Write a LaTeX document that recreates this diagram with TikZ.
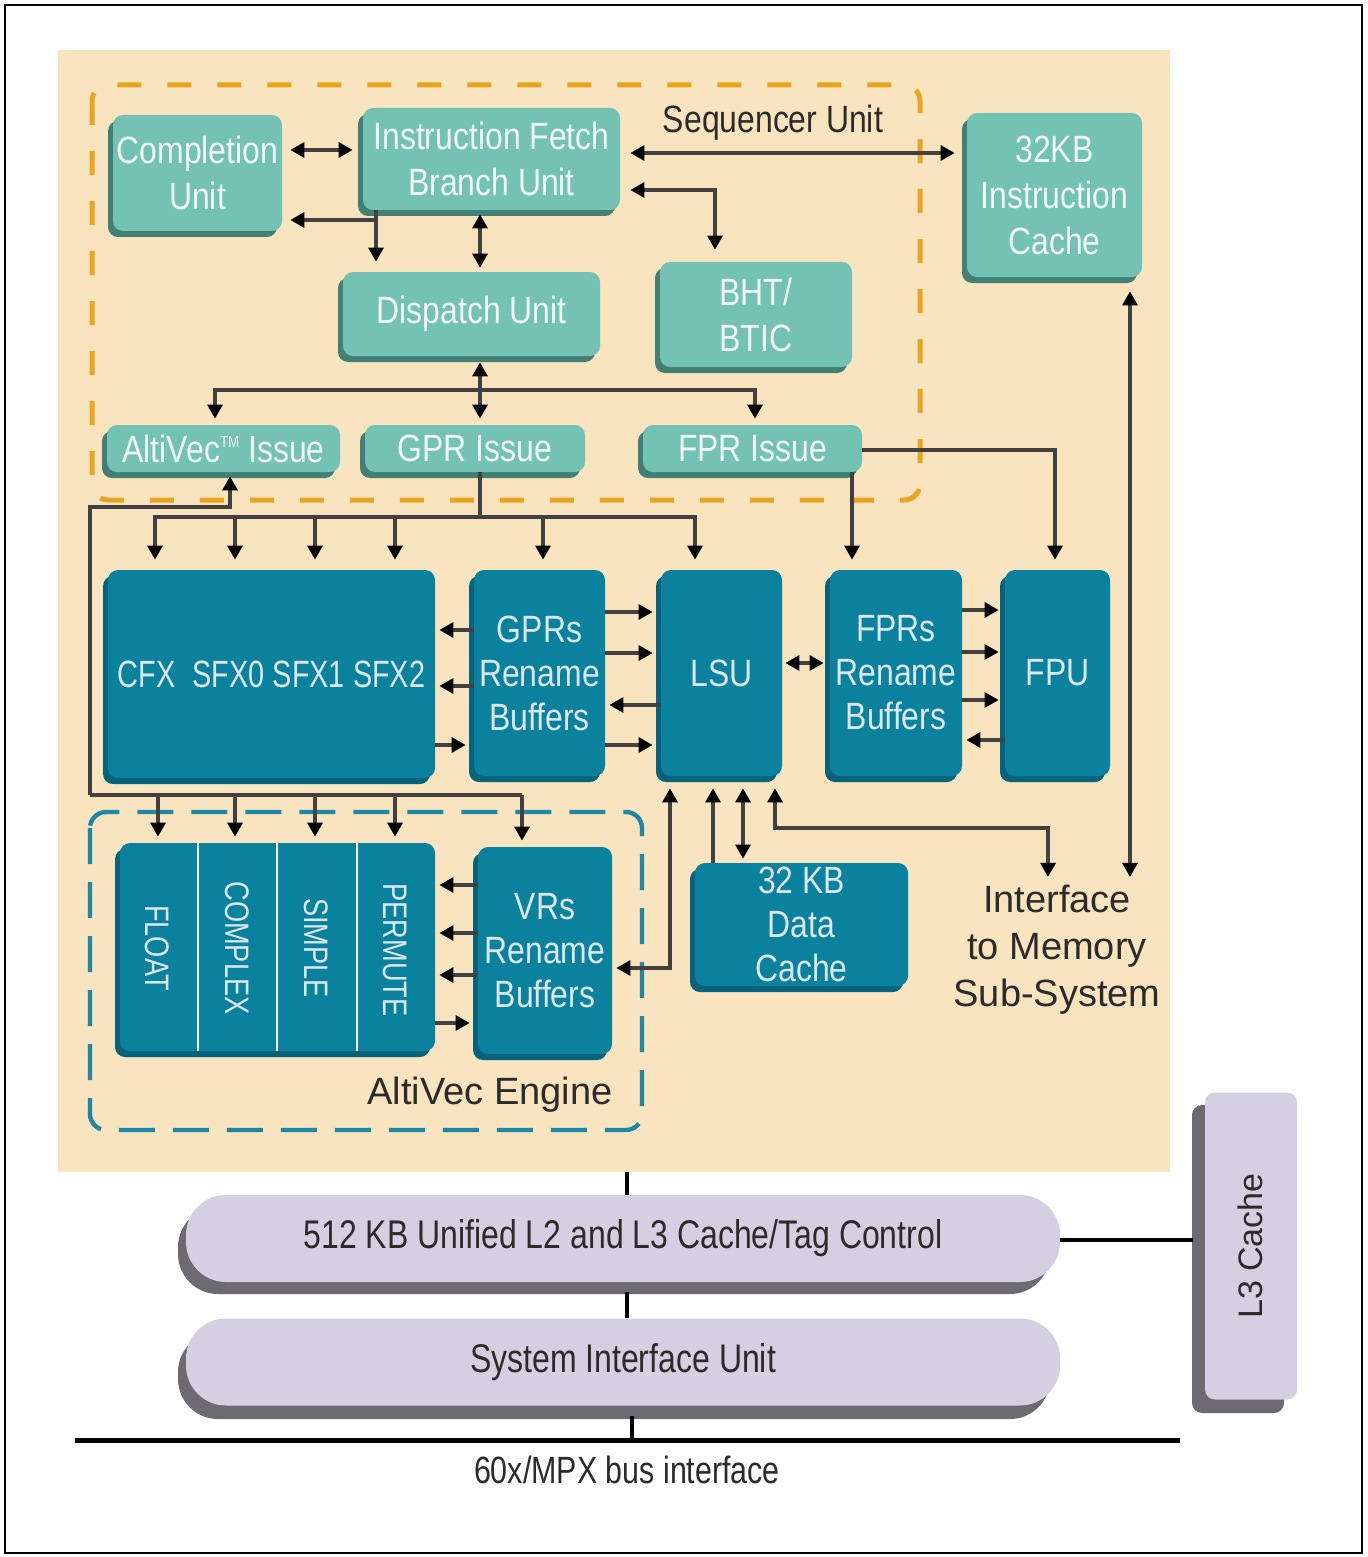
\documentclass[tikz,border=0pt]{standalone}
\usepackage{fontspec}
\setmainfont{Liberation Sans}
\newfontfamily\cond{Liberation Sans}[FakeStretch=0.84]
\newfontfamily\condx{Liberation Sans}[FakeStretch=0.80]
\newfontfamily\condxx{Liberation Sans}[FakeStretch=0.76]
\usetikzlibrary{arrows.meta,calc}
\definecolor{beige}{HTML}{F8E4BE}
\definecolor{lteal}{HTML}{74C2B4}
\definecolor{ltealsh}{HTML}{437F75}
\definecolor{dteal}{HTML}{0A819D}
\definecolor{dtealsh}{HTML}{06637B}
\definecolor{orng}{HTML}{EAA520}
\definecolor{bdash}{HTML}{1C88A6}
\definecolor{lav}{HTML}{D4D0E1}
\definecolor{lavsh}{HTML}{6D6A72}
\definecolor{wire}{HTML}{454040}
\definecolor{ltxt}{HTML}{F0F9F6}
\definecolor{dtxt}{HTML}{DCE8F6}
\definecolor{dktxt}{HTML}{2C2A2A}
\tikzset{
  ltbox/.style={fill=lteal, rounded corners=5pt, text=ltxt, align=center, inner sep=0pt,
    font=\cond\fontsize{19}{23}\selectfont},
  ltsh/.style={fill=ltealsh, rounded corners=5pt},
  dkbox/.style={fill=dteal, rounded corners=5pt, text=dtxt, align=center, inner sep=0pt,
    font=\cond\fontsize{19}{22}\selectfont},
  dksh/.style={fill=dtealsh, rounded corners=5pt},
  lvbox/.style={fill=lav, rounded corners=20pt, text=dktxt, inner sep=0pt,
    font=\condx\fontsize{20}{24}\selectfont},
  lvsh/.style={fill=lavsh, rounded corners=20pt},
  tip/.tip={Triangle[length=7pt,width=7.5pt,color=black]},
  wireline/.style={draw=wire, line width=1.6pt},
  arr/.style={wireline, -tip},
  darr/.style={wireline, tip-tip},
  blk/.style={draw=black, line width=2pt},
  lbl/.style={text=dktxt, align=center, inner sep=2pt},
  rottxt/.style={rotate=-90, text=dtxt, inner sep=0pt, font=\condx\fontsize{17}{20}\selectfont}
}
\newcommand\mybox[7]{%
  \fill[#6sh] (#2,#3+6) rectangle (#4-5,#5);
  \node[#6box, minimum width={(#4-#2-5)*0.5pt}, minimum height={(#5-#3-6)*0.5pt}]
    (#1) at ({(#2+#4+5)/2},{(#3+#5-6)/2}) {#7};
}
\begin{document}
\begin{tikzpicture}[x=0.5pt,y=-0.5pt]
\useasboundingbox (0,0) rectangle (1367,1557);
\fill[white] (0,0) rectangle (1367,1557);
\draw[line width=1pt] (5,5) rectangle (1362,1553);
% core background
\node[fill=beige, minimum width=556pt, minimum height=561pt, inner sep=0pt] (core) at (614,611) {};
% dashed regions
\draw[orng, line width=2.5pt, dash pattern=on 12pt off 13pt, rounded corners=8pt] (92,85) rectangle (920,500);
\draw[bdash, line width=2.2pt, dash pattern=on 18pt off 9pt, rounded corners=8pt] (90,812) rectangle (642,1130);
% sequencer boxes
\mybox{comp}{108}{115}{282}{237}{lt}{Completion\\Unit}
\mybox{ifetch}{358}{108}{620}{216}{lt}{Instruction Fetch\\Branch Unit}
\mybox{disp}{338}{272}{600}{362}{lt}{Dispatch Unit}
\mybox{bht}{655}{262}{852}{373}{lt}{BHT/\\BTIC}
\mybox{icache}{962}{113}{1142}{283}{lt}{32KB\\Instruction\\Cache}
\mybox{avissue}{102}{425}{340}{478}{lt}{AltiVec\raisebox{0.75ex}{\fontsize{8}{8}\selectfont TM} Issue}
\mybox{gprissue}{360}{425}{585}{478}{lt}{GPR Issue}
\mybox{fprissue}{638}{425}{862}{478}{lt}{FPR Issue}
% execution boxes
\mybox{cfx}{103}{570}{435}{784}{dk}{\condxx CFX\hspace{0.45em}SFX0 SFX1 SFX2}
\mybox{gprs}{469}{570}{605}{782}{dk}{GPRs\\Rename\\Buffers}
\mybox{lsu}{656}{570}{782}{782}{dk}{LSU}
\mybox{fprs}{825}{570}{962}{782}{dk}{FPRs\\Rename\\Buffers}
\mybox{fpu}{1000}{570}{1110}{782}{dk}{FPU}
\mybox{avunits}{115}{843}{435}{1057}{dk}{}
\mybox{vrs}{473}{847}{612}{1060}{dk}{VRs\\Rename\\Buffers}
\mybox{dcache}{690}{863}{908}{992}{dk}{\fontsize{19}{19}\selectfont 32 KB\\Data\\Cache}
\foreach \xx in {198,277,357}
  \draw[white, line width=1.2pt] (avunits.north -| \xx,0) -- (avunits.south -| \xx,0);
\node[rottxt] (tfloat) at (157,948) {FLOAT};
\node[rottxt] (tcomplex) at (237,948) {COMPLEX};
\node[rottxt] (tsimple) at (316,948) {SIMPLE};
\node[rottxt] (tpermute) at (395,950) {PERMUTE};
% labels
\node[lbl, font=\cond\fontsize{19}{23}\selectfont] (seqlbl) at (773,123) {Sequencer Unit};
\node[lbl, font=\fontsize{19}{23}\selectfont] (avlbl) at (490,1095) {AltiVec Engine};
\node[lbl, font=\fontsize{19}{23.5}\selectfont] (mem) at (1057,950) {Interface\\to Memory\\Sub-System};
% ---- connectors, sequencer
\draw[darr, shorten <=4pt, shorten >=5pt] (comp.east |- 0,150) -- (ifetch.west |- 0,150);
\draw[arr, shorten >=5pt] (ifetch.south -| 376,0) -- (disp.north -| 376,0);
\draw[arr, shorten >=4pt] (ifetch.south -| 376,0) |- (comp.east |- 0,220);
\draw[darr, shorten <=2pt, shorten >=2pt] (ifetch.south -| 480,0) -- (disp.north -| 480,0);
\coordinate (dbus) at (480,390);
\draw[darr, shorten <=3pt, shorten >=3pt] (disp.south -| 480,0) -- (gprissue.north -| 480,0);
\draw[arr, shorten >=3pt] (dbus) -| (avissue.north -| 215,0);
\draw[arr, shorten >=3pt] (dbus) -| (fprissue.north -| 755,0);
\draw[darr, shorten <=5pt, shorten >=6pt] (ifetch.east |- 0,153) -- (icache.west |- 0,153);
\draw[darr, shorten <=5pt, shorten >=6pt] (ifetch.east |- 0,190) -| (bht.north -| 715,0);
\draw[darr, shorten <=7pt, shorten >=2pt] (icache.south -| 1130,0) -- (mem.north -| 1130,0);
% issue to units
\draw[arr, shorten >=5pt] (fprissue.east |- 0,450) -| (fpu.north -| 1055,0);
\draw[arr, shorten >=5pt] (fprissue.south -| 852,0) -- (fprs.north -| 852,0);
\coordinate (gbus) at (480,517);
\draw[wireline] (gprissue.south -| 480,0) -- (gbus);
\draw[arr, shorten >=5pt] (gbus) -| (cfx.north -| 155,0);
\foreach \xx in {235,315,395}
  \draw[arr, shorten >=5pt] (gbus -| \xx,0) -- (cfx.north -| \xx,0);
\draw[arr, shorten >=5pt] (gbus) -| (gprs.north -| 543,0);
\draw[arr, shorten >=5pt] (gbus) -| (lsu.north -| 695,0);
\coordinate (vbus) at (90,795);
\draw[arr, shorten >=2pt] (vbus) -- (90,507) -| (avissue.south -| 230,0);
\draw[wireline] (vbus) -- (522,795);
\foreach \xx in {158,235,315,395}
  \draw[arr, shorten >=3pt] (vbus -| \xx,0) -- (avunits.north -| \xx,0);
\draw[arr, shorten >=3pt] (vbus -| 522,0) -- (vrs.north -| 522,0);
% register files
\foreach \yy in {630,686}
  \draw[arr, shorten >=2pt] (gprs.west |- 0,\yy) -- (cfx.east |- 0,\yy);
\draw[arr, shorten >=4pt] (cfx.east |- 0,745) -- (gprs.west |- 0,745);
\foreach \yy in {612,653,745}
  \draw[arr, shorten >=4pt] (gprs.east |- 0,\yy) -- (lsu.west |- 0,\yy);
\draw[arr, shorten >=2pt] (lsu.west |- 0,705) -- (gprs.east |- 0,705);
\draw[darr, shorten <=1.5pt, shorten >=3pt] (lsu.east |- 0,663) -- (fprs.west |- 0,663);
\foreach \yy in {610,652,700}
  \draw[arr, shorten >=3pt] (fprs.east |- 0,\yy) -- (fpu.west |- 0,\yy);
\draw[arr, shorten >=2pt] (fpu.west |- 0,740) -- (fprs.east |- 0,740);
\foreach \yy in {885,933,975}
  \draw[arr, shorten >=2pt] (vrs.west |- 0,\yy) -- (avunits.east |- 0,\yy);
\draw[arr, shorten >=4pt] (avunits.east |- 0,1023) -- (vrs.west |- 0,1023);
% LSU links
\draw[darr, shorten <=6pt, shorten >=2pt] (lsu.south -| 670,0) |- (vrs.east |- 0,968);
\draw[arr, shorten >=6pt] (dcache.north -| 713,0) -- (lsu.south -| 713,0);
\draw[darr, shorten <=6pt, shorten >=2pt] (lsu.south -| 743,0) -- (dcache.north -| 743,0);
\coordinate (mbend) at (1048,828);
\draw[darr, shorten <=6pt, shorten >=2pt] (lsu.south -| 775,0) |- (mbend) -- (mem.north -| 1048,0);
% ---- bottom
\fill[lvsh] (178,1207) rectangle (1050,1294);
\node[lvbox, minimum width=437pt, minimum height=43.5pt] (l2) at (623,1238.5) {512 KB Unified L2 and L3 Cache/Tag Control};
\fill[lvsh] (178,1332) rectangle (1050,1419);
\node[lvbox, minimum width=437pt, minimum height=43.5pt] (siu) at (623,1362) {System Interface Unit};
\fill[lvsh, rounded corners=5pt] (1192,1105) rectangle (1284,1413);
\node[fill=lav, rounded corners=5pt, minimum width=46pt, minimum height=153.5pt, inner sep=0pt] (l3) at (1251,1246) {};
\node[rotate=90, text=dktxt, inner sep=0pt, font=\fontsize{17}{20}\selectfont] (l3t) at (1250,1246) {L3 Cache};
\coordinate (busL) at (75,1440);
\coordinate (busR) at (1180,1440);
\draw[blk] (core.south -| 627,0) -- (l2.north -| 627,0);
\draw[blk, shorten <=5pt] (l2.south -| 627,0) -- (siu.north -| 627,0);
\draw[blk, shorten <=5pt] (siu.south -| 632,0) -- (busL -| 632,0);
\draw[blk, shorten >=6pt] (l2.east |- 0,1240) -- (l3.west |- 0,1240);
\draw[draw=black, line width=2.5pt] (busL) -- (busR);
\node[lbl, font=\condx\fontsize{19}{23}\selectfont] (buslbl) at (627,1470) {60x/MPX bus interface};
\end{tikzpicture}
\end{document}
